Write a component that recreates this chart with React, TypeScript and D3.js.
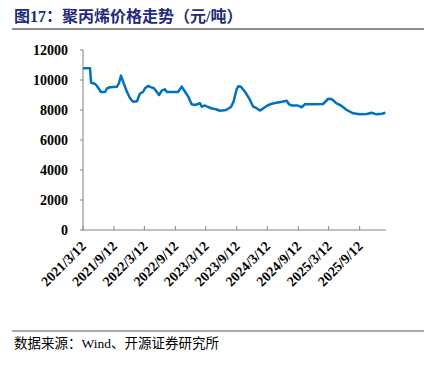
import React from "react";
import * as d3 from "d3";

const dates: string[] = [
  "2021-03-12","2021-04-23","2021-04-29","2021-05-22","2021-06-03","2021-06-27","2021-07-21","2021-08-02","2021-08-20","2021-09-30",
  "2021-10-12","2021-10-24","2021-11-05","2021-11-27","2021-12-16","2022-01-03","2022-01-27","2022-02-14","2022-03-04","2022-03-16",
  "2022-04-02","2022-04-20","2022-05-08","2022-05-24","2022-06-07","2022-06-23","2022-07-12","2022-07-24","2022-09-28","2022-10-20",
  "2022-11-08","2022-11-28","2022-12-18","2023-01-07","2023-02-06","2023-02-16","2023-03-07","2023-03-25","2023-04-18","2023-05-12",
  "2023-06-05","2023-07-10","2023-08-09","2023-08-24","2023-09-12","2023-09-22","2023-10-07","2023-10-31","2023-11-30","2023-12-19",
  "2024-01-04","2024-01-28","2024-03-08","2024-04-03","2024-05-07","2024-06-07","2024-07-05","2024-07-19","2024-08-06","2024-09-10",
  "2024-10-02","2024-10-22","2024-12-08","2025-02-06","2025-02-24","2025-03-10","2025-03-31","2025-04-28","2025-05-24","2025-06-27",
  "2025-08-05","2025-09-14","2025-10-24","2025-11-22","2025-12-22","2026-01-23","2026-02-12",
];
const prices: number[] = [
  10780,10780,9820,9750,9600,9200,9200,9450,9520,9550,
  9800,10290,9900,9250,8800,8550,8580,9100,9200,9450,
  9600,9520,9450,9220,9000,9290,9380,9200,9200,9560,
  9230,8890,8380,8330,8450,8220,8300,8200,8100,8050,
  7950,8000,8200,8550,9400,9580,9550,9220,8670,8220,
  8150,7960,8270,8400,8490,8550,8620,8380,8300,8300,
  8180,8380,8380,8400,8600,8750,8720,8440,8300,8000,
  7780,7720,7730,7820,7710,7750,7820,
];
const xTickLabels: string[] = [
  "2021/3/12","2021/9/12","2022/3/12","2022/9/12","2023/3/12",
  "2023/9/12","2024/3/12","2024/9/12","2025/3/12","2025/9/12",
];
const yTicks: number[] = [0, 2000, 4000, 6000, 8000, 10000, 12000];

const parse = d3.timeParse("%Y-%m-%d");
const parseTick = d3.timeParse("%Y/%m/%d");

export default function App() {
  const W = 427, H = 369;
  const left = 83, right = 385.7, top = 50, bottom = 230;
  const x = d3.scaleTime()
    .domain([parse("2021-03-12")!, parse("2026-02-14")!])
    .range([left, right]);
  const y = d3.scaleLinear().domain([0, 12000]).range([bottom, top]);
  const data = dates.map((d, i) => ({ d: parse(d)!, v: prices[i] }));
  const line = d3.line<{ d: Date; v: number }>()
    .x((p) => x(p.d))
    .y((p) => y(p.v));
  const axisColor = "#808080";
  const latin = "'Liberation Serif', 'Times New Roman', serif";
  return (
    <svg width={W} height={H} style={{ position: "absolute", left: 0, top: 0, background: "#fff" }}>
      <text x={14} y={22} fill="#1F2A7A" fontWeight="bold" fontSize={16}
        fontFamily={`${latin}, 'Noto Sans CJK SC'`}>图17：聚丙烯价格走势（元/吨）</text>
      <line x1={12} x2={424} y1={29} y2={29} stroke="#8c8c8c" strokeWidth={2} />

      {/* y axis */}
      <line x1={left} x2={left} y1={top} y2={bottom} stroke={axisColor} strokeWidth={1} />
      {yTicks.map((t) => (
        <g key={t}>
          <line x1={left - 3} x2={left} y1={y(t)} y2={y(t)} stroke={axisColor} />
          <text x={68} y={y(t)} dy="0.35em" textAnchor="end" fontWeight="bold"
            fontSize={14} fontFamily={latin} fill="#000">{t}</text>
        </g>
      ))}

      {/* x axis */}
      <line x1={left} x2={right} y1={bottom} y2={bottom} stroke={axisColor} strokeWidth={1} />
      {xTickLabels.map((lab) => {
        const tx = x(parseTick(lab)!);
        return (
          <g key={lab}>
            <line x1={tx} x2={tx} y1={bottom} y2={bottom - 4} stroke={axisColor} />
            <text transform={`translate(${tx + 4},${bottom + 17}) rotate(-45)`} textAnchor="end"
              fontWeight="bold" fontSize={14} fontFamily={latin} fill="#000">{lab}</text>
          </g>
        );
      })}

      <path d={line(data)!} fill="none" stroke="#0070C0" strokeWidth={2.5} strokeLinejoin="round" />

      <line x1={12} x2={424} y1={331} y2={331} stroke="#555" strokeWidth={1} />
      <text x={14} y={348} fontSize={13.5} fill="#000"
        fontFamily={`${latin}, 'Noto Sans CJK SC'`}>数据来源：Wind、开源证券研究所</text>
    </svg>
  );
}
